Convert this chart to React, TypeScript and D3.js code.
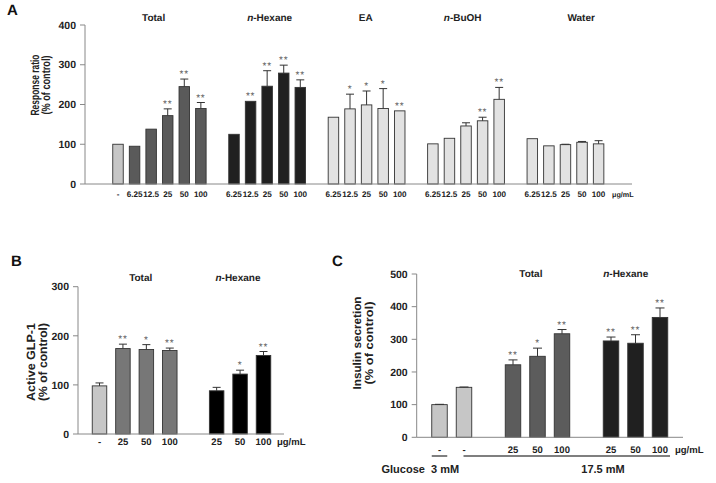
import React from "react";
import * as d3 from "d3";

const FONT = "'Liberation Sans', Arial, Helvetica, sans-serif";

// ---------- Panel A data ----------
const aGroups = ["Total", "n-Hexane", "EA", "n-BuOH", "Water"];
const aDoses = ["6.25", "12.5", "25", "50", "100"];
const aControl = 100;
const aTotal = [95, 138, 172, 245, 190];
const aTotalErr = [0, 0, 17, 19, 15];
const aTotalSig = ["", "", "**", "**", "**"];
const aHexane = [125, 208, 246, 279, 243];
const aHexaneErr = [0, 0, 39, 20, 19];
const aHexaneSig = ["", "**", "**", "**", "**"];
const aEA = [168, 189, 199, 190, 184];
const aEAErr = [0, 37, 35, 50, 0];
const aEASig = ["", "*", "*", "*", "**"];
const aBuOH = [101, 115, 146, 159, 213];
const aBuOHErr = [0, 0, 8, 9, 30];
const aBuOHSig = ["", "", "", "**", "**"];
const aWater = [114, 96, 99, 105, 101];
const aWaterErr = [0, 0, 1, 2, 8];
const aWaterSig = ["", "", "", "", ""];
const aYTicks = [0, 100, 200, 300, 400];

// ---------- Panel B data ----------
const bGroups = ["Total", "n-Hexane"];
const bDoses = ["25", "50", "100"];
const bControl = 98;
const bControlErr = 6;
const bTotal = [174, 172, 170];
const bTotalErr = [9, 10, 5];
const bTotalSig = ["**", "*", "**"];
const bHexane = [88, 122, 160];
const bHexaneErr = [7, 8, 8];
const bHexaneSig = ["", "*", "**"];
const bYTicks = [0, 100, 200, 300];

// ---------- Panel C data ----------
const cGroups = ["Total", "n-Hexane"];
const cDoses = ["25", "50", "100"];
const cControls = [100, 153];
const cControlsErr = [1, 1];
const cTotal = [222, 248, 317];
const cTotalErr = [15, 25, 13];
const cTotalSig = ["**", "*", "**"];
const cHexane = [295, 288, 367];
const cHexaneErr = [12, 26, 29];
const cHexaneSig = ["**", "**", "**"];
const cYTicks = [0, 100, 200, 300, 400, 500];
const cGlucose = ["Glucose  3 mM", "17.5 mM"];

type Bar = { slot: number; v: number; e: number; s: string; fill: string; label: string };

type Layout = {
  nSlots: number;
  c0: number;
  cN: number;
  axisL: number;
  axisR: number;
  y0: number;
  yTop: number;
  yMax: number;
  ticks: number[];
  barW: number;
  capW: number;
  xTickFont: number;
  xTickY: number;
  yTickFont: number;
  titles: string[];
  titleSlots: number[];
  titleY: number;
  unitX: number;
  unitFont: number;
  yLabel: string[];
  yLabelX: number[];
  yLabelCY: number;
  yLabelLen: number[];
  yLabelFont: number;
  letter: string;
  letterX: number;
  letterY: number;
  starFont: number;
};

const Title = ({ text, x, y }: { text: string; x: number; y: number }) => {
  const italic = text.startsWith("n-");
  return (
    <text x={x} y={y} textAnchor="middle" fontSize={10} fontWeight="bold" fill="#222">
      {italic ? (
        <>
          <tspan fontStyle="italic">n</tspan>
          {text.slice(1)}
        </>
      ) : (
        text
      )}
    </text>
  );
};

const Panel = ({ L, bars }: { L: Layout; bars: Bar[] }) => {
  const x = d3.scaleLinear().domain([0, L.nSlots - 1]).range([L.c0, L.cN]);
  const y = d3.scaleLinear().domain([0, L.yMax]).range([L.y0, L.yTop]);
  return (
    <g fontFamily={FONT} style={{ textRendering: "geometricPrecision" }}>
      <text x={L.letterX} y={L.letterY} fontSize={15} fontWeight="bold" fill="#111">
        {L.letter}
      </text>
      {/* y axis */}
      <line x1={L.axisL} x2={L.axisL} y1={y(0)} y2={y(L.yMax)} stroke="#888" strokeWidth={1} />
      {L.ticks.map((t) => (
        <g key={t}>
          <line x1={L.axisL - 5} x2={L.axisL} y1={y(t)} y2={y(t)} stroke="#888" strokeWidth={1} />
          <text
            x={L.axisL - 9}
            y={y(t) + 3.7}
            textAnchor="end"
            fontSize={L.yTickFont}
            fontWeight="bold"
            fill="#222"
          >
            {t}
          </text>
        </g>
      ))}
      {/* bars */}
      {bars.map((b, i) => {
        const cx = x(b.slot);
        const top = y(b.v);
        const etop = y(b.v + b.e);
        return (
          <g key={i}>
            <rect
              x={cx - L.barW / 2}
              y={top}
              width={L.barW}
              height={y(0) - top}
              fill={b.fill}
              stroke="#333"
              strokeWidth={0.9}
            />
            {b.e > 0 && (
              <g stroke="#333" strokeWidth={1}>
                <line x1={cx} x2={cx} y1={top} y2={etop} />
                <line x1={cx - L.capW / 2} x2={cx + L.capW / 2} y1={etop} y2={etop} />
              </g>
            )}
            {b.s && (
              <text
                x={cx}
                y={etop - 2}
                textAnchor="middle"
                fontSize={L.starFont}
                fill="#606060"
                letterSpacing={0.8}
              >
                {b.s}
              </text>
            )}
            <text
              x={cx}
              y={L.xTickY}
              textAnchor="middle"
              fontSize={L.xTickFont}
              fontWeight="bold"
              fill="#222"
            >
              {b.label}
            </text>
          </g>
        );
      })}
      {/* x axis */}
      <line x1={L.axisL} x2={L.axisR} y1={y(0)} y2={y(0)} stroke="#888" strokeWidth={1} />
      <text x={L.unitX} y={L.xTickY} fontSize={L.unitFont} fontWeight="bold" fill="#222">
        μg/mL
      </text>
      {L.titles.map((t, i) => (
        <Title key={t} text={t} x={x(L.titleSlots[i])} y={L.titleY} />
      ))}
      {L.yLabel.map((t, i) => (
        <text
          key={t}
          transform={`translate(${L.yLabelX[i] + 4},${L.yLabelCY}) rotate(-90)`}
          textAnchor="middle"
          fontSize={L.yLabelFont}
          fontWeight="bold"
          fill="#222"
          textLength={L.yLabelLen[i]}
          lengthAdjust="spacingAndGlyphs"
        >
          {t}
        </text>
      ))}
    </g>
  );
};

const CTRL = "#c6c6c6";
const LIGHT = "#e2e2e2";

const barsA: Bar[] = (() => {
  const out: Bar[] = [{ slot: 0, v: aControl, e: 0, s: "", fill: CTRL, label: "-" }];
  const groups = [
    { v: aTotal, e: aTotalErr, s: aTotalSig, fill: "#5a5a5a" },
    { v: aHexane, e: aHexaneErr, s: aHexaneSig, fill: "#202020" },
    { v: aEA, e: aEAErr, s: aEASig, fill: LIGHT },
    { v: aBuOH, e: aBuOHErr, s: aBuOHSig, fill: LIGHT },
    { v: aWater, e: aWaterErr, s: aWaterSig, fill: LIGHT },
  ];
  groups.forEach((g, gi) =>
    g.v.forEach((v, i) =>
      out.push({ slot: 1 + gi * 6 + i, v, e: g.e[i], s: g.s[i], fill: g.fill, label: aDoses[i] })
    )
  );
  return out;
})();

const barsB: Bar[] = (() => {
  const out: Bar[] = [{ slot: 0, v: bControl, e: bControlErr, s: "", fill: CTRL, label: "-" }];
  bTotal.forEach((v, i) =>
    out.push({ slot: 1 + i, v, e: bTotalErr[i], s: bTotalSig[i], fill: "#777777", label: bDoses[i] })
  );
  bHexane.forEach((v, i) =>
    out.push({ slot: 5 + i, v, e: bHexaneErr[i], s: bHexaneSig[i], fill: "#000000", label: bDoses[i] })
  );
  return out;
})();

const barsC: Bar[] = (() => {
  const out: Bar[] = cControls.map((v, i) => ({
    slot: i,
    v,
    e: cControlsErr[i],
    s: "",
    fill: CTRL,
    label: "-",
  }));
  cTotal.forEach((v, i) =>
    out.push({ slot: 3 + i, v, e: cTotalErr[i], s: cTotalSig[i], fill: "#5c5c5c", label: cDoses[i] })
  );
  cHexane.forEach((v, i) =>
    out.push({ slot: 7 + i, v, e: cHexaneErr[i], s: cHexaneSig[i], fill: "#202020", label: cDoses[i] })
  );
  return out;
})();

const layoutA: Layout = {
  nSlots: 30,
  c0: 118,
  cN: 598.6,
  axisL: 85,
  axisR: 632,
  y0: 184,
  yTop: 25,
  yMax: 400,
  ticks: aYTicks,
  barW: 10.5,
  capW: 8,
  xTickFont: 8.1,
  xTickY: 197,
  yTickFont: 10.5,
  titles: aGroups,
  titleSlots: [2.15, 9.15, 14.95, 20.8, 27.95],
  titleY: 21,
  unitX: 612,
  unitFont: 7.2,
  yLabel: ["Response ratio", "(% of control)"],
  yLabelX: [34.5, 45.5],
  yLabelCY: 85,
  yLabelLen: [61, 59],
  yLabelFont: 12,
  letter: "A",
  letterX: 7,
  letterY: 15,
  starFont: 10,
};

const layoutB: Layout = {
  nSlots: 8,
  c0: 99.5,
  cN: 263.5,
  axisL: 78,
  axisR: 284,
  y0: 434,
  yTop: 286.7,
  yMax: 300,
  ticks: bYTicks,
  barW: 14.5,
  capW: 8,
  xTickFont: 9.5,
  xTickY: 445,
  yTickFont: 10.5,
  titles: bGroups,
  titleSlots: [1.76, 5.91],
  titleY: 281,
  unitX: 277,
  unitFont: 9.5,
  yLabel: ["Active GLP-1", "(% of control)"],
  yLabelX: [31, 42.7],
  yLabelCY: 362,
  yLabelLen: [78, 78],
  yLabelFont: 12,
  letter: "B",
  letterX: 11,
  letterY: 266,
  starFont: 10,
};

const layoutC: Layout = {
  nSlots: 10,
  c0: 439.5,
  cN: 660,
  axisL: 416.7,
  axisR: 683,
  y0: 437.3,
  yTop: 274,
  yMax: 500,
  ticks: cYTicks,
  barW: 15.5,
  capW: 9,
  xTickFont: 9.5,
  xTickY: 453,
  yTickFont: 10.5,
  titles: cGroups,
  titleSlots: [3.73, 7.6],
  titleY: 277,
  unitX: 675,
  unitFont: 9.5,
  yLabel: ["Insulin secretion", "(% of control)"],
  yLabelX: [356.7, 369.3],
  yLabelCY: 343,
  yLabelLen: [93, 83],
  yLabelFont: 11.5,
  letter: "C",
  letterX: 332,
  letterY: 266,
  starFont: 10,
};

const GlucoseRow = () => {
  const x = d3.scaleLinear().domain([0, layoutC.nSlots - 1]).range([layoutC.c0, layoutC.cN]);
  const half = layoutC.barW / 2;
  return (
    <g fontFamily={FONT}>
      <line x1={x(0) - half} x2={x(0) + half} y1={456} y2={456} stroke="#555" strokeWidth={1.5} />
      <line x1={x(1) - 0.5} x2={x(9) + 10} y1={456} y2={456} stroke="#555" strokeWidth={1.5} />
      <text x={381.5} y={473} fontSize={11} fontWeight="bold" fill="#222" style={{ whiteSpace: "pre" }}>
        {cGlucose[0]}
      </text>
      <text x={603} y={473} textAnchor="middle" fontSize={11} fontWeight="bold" fill="#222">
        {cGlucose[1]}
      </text>
    </g>
  );
};

export default function App() {
  return (
    <svg
      width={716}
      height={483}
      style={{ position: "absolute", left: 0, top: 0, background: "#fff" }}
    >
      <rect width={716} height={483} fill="#fff" />
      <Panel L={layoutA} bars={barsA} />
      <Panel L={layoutB} bars={barsB} />
      <Panel L={layoutC} bars={barsC} />
      <GlucoseRow />
    </svg>
  );
}
